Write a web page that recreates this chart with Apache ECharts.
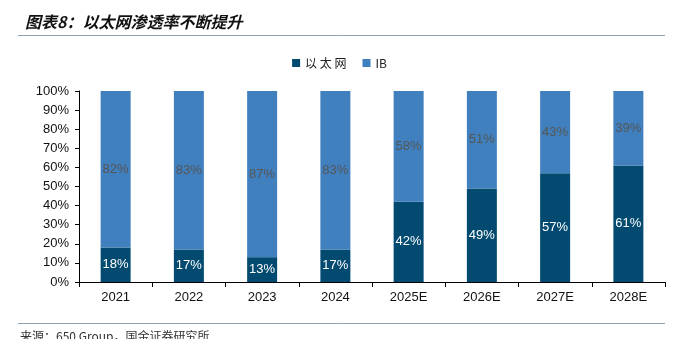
<!DOCTYPE html>
<html><head><meta charset="utf-8">
<script src="https://cdn.jsdelivr.net/npm/echarts@6/dist/echarts.min.js"></script>
<style>html,body{margin:0;padding:0;background:#fff}#c{width:679px;height:339px}</style>
</head><body><div id="c"></div>
<script>
const categories = ['2021','2022','2023','2024','2025E','2026E','2027E','2028E'];
const ethernet = [18,17,13,17,42,49,57,61];
const ib = [82,83,87,83,58,51,43,39];
const yTicks = [0,10,20,30,40,50,60,70,80,90,100];
const titleText = '图表8：以太网渗透率不断提升';
const sourceText = '来源：650 Group，国金证券研究所';

const chart = echarts.init(document.getElementById('c'));
const font = '"Liberation Sans", Arial, sans-serif';
chart.setOption({
  animation:false,
  title:{text:titleText,left:20,top:9,textStyle:{fontFamily:'"Noto Sans CJK SC"',fontSize:16,fontWeight:'bold',fontStyle:'italic',color:'#111'}},
  graphic:[
    {type:'line',shape:{x1:18,y1:35.5,x2:665,y2:35.5},style:{stroke:'#8fa3b5',lineWidth:1}},
    {type:'line',shape:{x1:18,y1:323.5,x2:665,y2:323.5},style:{stroke:'#8fa3b5',lineWidth:1}},
    {type:'text',left:20,top:330,style:{text:sourceText,fontFamily:'"Noto Sans CJK SC"',fontSize:12,fill:'#333'}}
  ],
  legend:{top:52,left:'center',itemWidth:8,itemHeight:8,itemGap:16,icon:'rect',
    textStyle:{fontFamily:'"Noto Sans CJK SC", "Liberation Sans"',fontSize:12,color:'#222'},
    formatter:n=>n==='以太网'?'以 太 网':n,data:['以太网','IB']},
  grid:{left:79,right:14,top:91,bottom:57,containLabel:false},
  xAxis:{type:'category',data:categories,
    axisLine:{lineStyle:{color:'#000',width:1}},
    axisTick:{show:true,alignWithLabel:false,length:5,lineStyle:{color:'#000'}},
    axisLabel:{fontFamily:font,fontSize:13,color:'#111',margin:9}},
  yAxis:{type:'value',min:0,max:100,interval:10,
    axisLine:{show:true,lineStyle:{color:'#000'}},
    axisTick:{show:true,length:4,lineStyle:{color:'#000'}},
    splitLine:{show:false},
    axisLabel:{fontFamily:font,fontSize:13,color:'#111',margin:10,formatter:v=>yTicks.includes(v)?v+'%':''}},
  series:[
    {name:'以太网',type:'bar',stack:'a',data:ethernet,barWidth:30,
     itemStyle:{color:'#034a70'},
     label:{show:true,position:'inside',formatter:'{c}%',color:'#fff',fontFamily:font,fontSize:13}},
    {name:'IB',type:'bar',stack:'a',data:ib,barWidth:30,
     itemStyle:{color:'#4180bf'},
     label:{show:true,position:'inside',formatter:'{c}%',color:'#555',fontFamily:font,fontSize:13}}
  ]
});
</script></body></html>
